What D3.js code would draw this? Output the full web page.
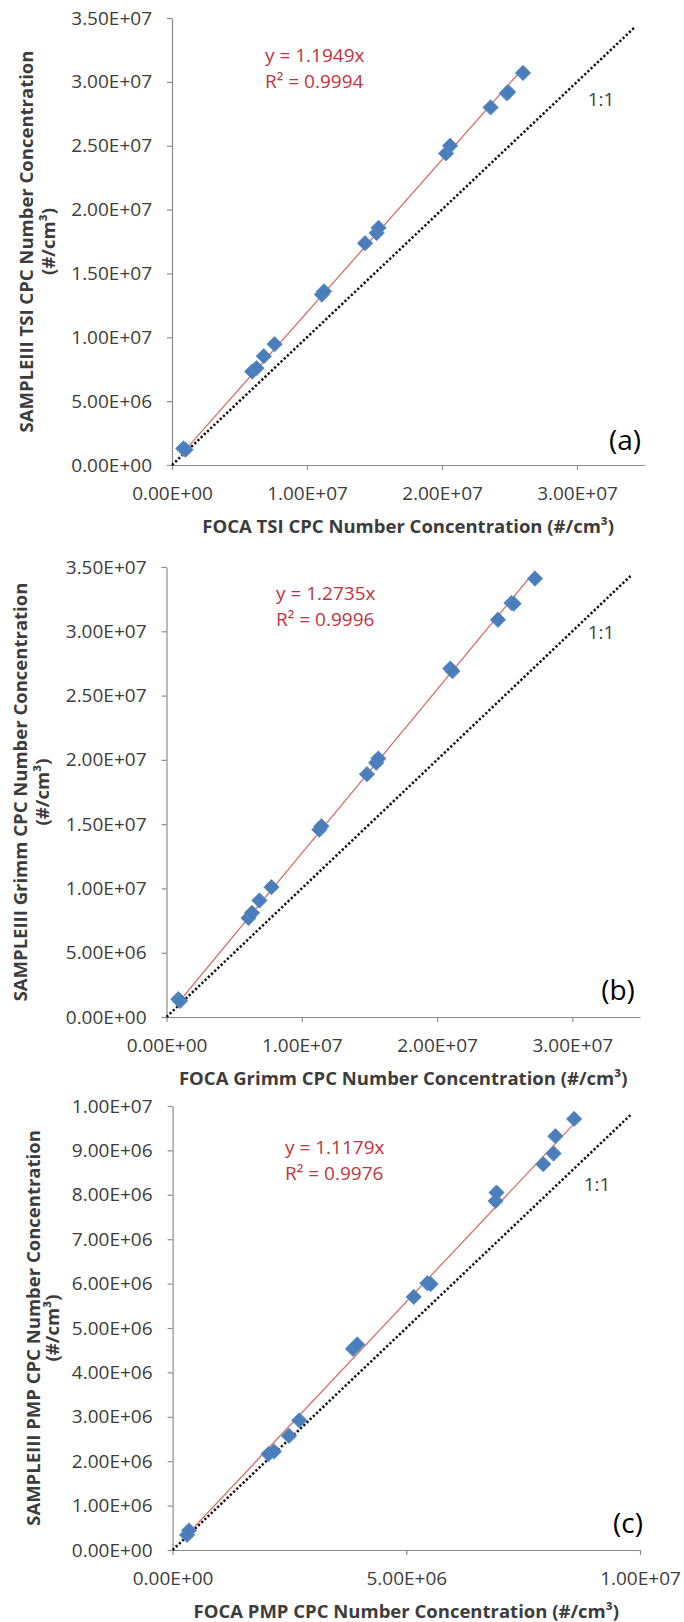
<!DOCTYPE html>
<html><head><meta charset="utf-8">
<script src="https://cdn.jsdelivr.net/npm/d3@7"></script>
<style>
body{margin:0;background:#fff}
text{font-family:'Open Sans',sans-serif}
</style>
</head><body>
<svg id="chart" width="684" height="1622"></svg>
<script>
// ---------------- DATA ----------------
// Panel (a): FOCA TSI vs SAMPLEIII TSI
const focaTsi   = [0.84e6, 1.0e6, 5.94e6, 6.26e6, 6.8e6, 7.6e6, 11.1e6, 11.26e6, 14.3e6, 15.16e6, 15.3e6, 20.3e6, 20.6e6, 23.6e6, 24.8e6, 24.9e6, 26.0e6];
const sampleTsi = [1.29e6, 1.2e6, 7.32e6, 7.58e6, 8.52e6, 9.46e6, 13.35e6, 13.6e6, 17.37e6, 18.17e6, 18.57e6, 24.4e6, 25.0e6, 28.0e6, 29.1e6, 29.2e6, 30.7e6];
// Panel (b): FOCA Grimm vs SAMPLEIII Grimm
const focaGrimm   = [0.87e6, 1.0e6, 6.06e6, 6.32e6, 6.87e6, 7.76e6, 11.3e6, 11.45e6, 14.82e6, 15.5e6, 15.66e6, 20.98e6, 21.14e6, 24.5e6, 25.5e6, 25.66e6, 27.24e6];
const sampleGrimm = [1.39e6, 1.25e6, 7.7e6, 8.1e6, 9.06e6, 10.1e6, 14.57e6, 14.84e6, 18.89e6, 19.77e6, 20.1e6, 27.1e6, 26.9e6, 30.9e6, 32.2e6, 32.15e6, 34.1e6];
// Panel (c): FOCA PMP vs SAMPLEIII PMP
const focaPmp   = [0.31e6, 0.35e6, 2.05e6, 2.17e6, 2.49e6, 2.71e6, 3.86e6, 3.95e6, 5.16e6, 5.45e6, 5.52e6, 6.91e6, 6.93e6, 7.93e6, 8.15e6, 8.19e6, 8.59e6];
const samplePmp = [0.34e6, 0.44e6, 2.16e6, 2.22e6, 2.57e6, 2.92e6, 4.53e6, 4.63e6, 5.70e6, 6.01e6, 5.99e6, 7.86e6, 8.05e6, 8.69e6, 8.93e6, 9.32e6, 9.71e6];

const slopes   = [1.1949, 1.2735, 1.1179];
const r2Labels = ["0.9994", "0.9996", "0.9976"];
const oneToOneEnd = [3.43e7, 3.43e7, 9.8e6];
const panelLetters = ["(a)", "(b)", "(c)"];
const xTitles = ["FOCA TSI CPC Number Concentration (#/cm³)",
                 "FOCA Grimm CPC Number Concentration (#/cm³)",
                 "FOCA PMP CPC Number Concentration (#/cm³)"];
const yTitles = ["SAMPLEIII TSI CPC Number Concentration",
                 "SAMPLEIII Grimm CPC Number Concentration",
                 "SAMPLEIII PMP CPC Number Concentration"];
const yTitleUnit = "(#/cm³)";
const xTicksAB = [0, 1e7, 2e7, 3e7];
const yTicksAB = [0, 5e6, 1e7, 1.5e7, 2e7, 2.5e7, 3e7, 3.5e7];
const xTicksC  = [0, 5e6, 1e7];
const yTicksC  = [0, 1e6, 2e6, 3e6, 4e6, 5e6, 6e6, 7e6, 8e6, 9e6, 1e7];
const xMaxes = [3.5e7, 3.5e7, 1e7];
const yMaxes = [3.5e7, 3.5e7, 1e7];

// ---------------- LAYOUT ----------------
const layout = [
  {x0:172,   x1:644.5, y0:465,  y1:18,   eqX:265, eqY:62,   oneX:601, oneY:106,  letX:625, letY:450,
   yt1:32.5, yt2:55,  },
  {x0:166.5, x1:640,   y0:1017, y1:567,  eqX:276, eqY:600,  oneX:601, oneY:639,  letX:618, letY:1000,
   yt1:27,   yt2:49,  },
  {x0:172.6, x1:640,   y0:1550, y1:1106, eqX:285, eqY:1154, oneX:597, oneY:1191, letX:628, letY:1533,
   yt1:40,   yt2:59,  }
];

const xs = [focaTsi, focaGrimm, focaPmp];
const ys = [sampleTsi, sampleGrimm, samplePmp];
const xTickSets = [xTicksAB, xTicksAB, xTicksC];
const yTickSets = [yTicksAB, yTicksAB, yTicksC];

function excelSci(v){
  if (v === 0) return "0.00E+00";
  const e = Math.floor(Math.log10(Math.abs(v)) + 1e-9);
  const m = v / Math.pow(10, e);
  return m.toFixed(2) + "E" + (e < 0 ? "-" : "+") + String(Math.abs(e)).padStart(2, "0");
}

const svg = d3.select("#chart");
svg.append("rect").attr("width", 684).attr("height", 1622).attr("fill", "#fff");

const axisColor = "#8c8c8c";
const labelColor = "#3c3c3c";
const trendColor = "#d9706a";
const eqColor = "#bf3440";
const markerColor = "#4a7ebb";

layout.forEach((L, i) => {
  const x = d3.scaleLinear().domain([0, xMaxes[i]]).range([L.x0, L.x1]);
  const y = d3.scaleLinear().domain([0, yMaxes[i]]).range([L.y0, L.y1]);
  const g = svg.append("g");

  const yAxis = d3.axisLeft(y).tickValues(yTickSets[i]).tickFormat(excelSci)
    .tickSize(5).tickSizeOuter(0).tickPadding(15);
  const xAxis = d3.axisBottom(x).tickValues(xTickSets[i]).tickFormat(excelSci)
    .tickSize(5).tickSizeOuter(0).tickPadding(17);

  const gy = g.append("g").attr("transform", `translate(${L.x0},0)`).call(yAxis);
  const gx = g.append("g").attr("transform", `translate(0,${L.y0})`).call(xAxis);
  [gx, gy].forEach(a => {
    a.select(".domain").attr("stroke", axisColor).attr("stroke-width", 1.2);
    a.selectAll(".tick line").attr("stroke", axisColor).attr("stroke-width", 1.2);
    a.selectAll(".tick text").attr("fill", labelColor).attr("font-size", 19)
      .attr("font-family", "'Open Sans',sans-serif");
  });

  // 1:1 dotted line
  const oneData = [[0, 0], [oneToOneEnd[i], oneToOneEnd[i]]];
  g.append("path")
    .attr("d", d3.line().x(d => x(d[0])).y(d => y(d[1]))(oneData))
    .attr("stroke", "#111").attr("stroke-width", 2.5)
    .attr("stroke-dasharray", "2.3 2.1").attr("fill", "none");

  // trendline through origin over data x-range
  const xe = d3.extent(xs[i]);
  const tr = xe.map(v => [v, v * slopes[i]]);
  g.append("path")
    .attr("d", d3.line().x(d => x(d[0])).y(d => y(d[1]))(tr))
    .attr("stroke", trendColor).attr("stroke-width", 1.3).attr("fill", "none");

  // markers
  const pts = xs[i].map((v, k) => [v, ys[i][k]]);
  const sym = d3.symbol().type(d3.symbolSquare).size(118);
  g.selectAll("path.pt").data(pts).enter().append("path")
    .attr("class", "pt")
    .attr("d", sym)
    .attr("transform", d => `translate(${x(d[0])},${y(d[1])}) rotate(45)`)
    .attr("fill", markerColor).attr("stroke", "#5b8cc8").attr("stroke-width", 0.8);

  // equation labels
  g.append("text").attr("x", L.eqX).attr("y", L.eqY).attr("fill", eqColor)
    .attr("font-size", 19).text(`y = ${slopes[i].toFixed(4)}x`);
  g.append("text").attr("x", L.eqX).attr("y", L.eqY + 26).attr("fill", eqColor)
    .attr("font-size", 19).text(`R² = ${r2Labels[i]}`);

  // 1:1 label
  g.append("text").attr("x", L.oneX).attr("y", L.oneY).attr("text-anchor", "middle")
    .attr("fill", "#404040").attr("font-size", 19).text("1:1");

  // panel letter
  g.append("text").attr("x", L.letX).attr("y", L.letY).attr("text-anchor", "middle")
    .attr("fill", "#000").attr("font-size", 28).text(panelLetters[i]);

  // x title
  g.append("text").attr("x", (L.x0 + L.x1) / 2).attr("y", L.y0 + 68)
    .attr("text-anchor", "middle").attr("font-weight", "bold").attr("font-size", 18.5)
    .attr("fill", labelColor).text(xTitles[i]);

  // y title (two lines)
  const cy = (L.y0 + L.y1) / 2;
  g.append("text").attr("transform", `translate(${L.yt1},${cy}) rotate(-90)`)
    .attr("text-anchor", "middle").attr("font-weight", "bold").attr("font-size", 18.5)
    .attr("fill", labelColor).text(yTitles[i]);
  g.append("text").attr("transform", `translate(${L.yt2},${cy}) rotate(-90)`)
    .attr("text-anchor", "middle").attr("font-weight", "bold").attr("font-size", 18.5)
    .attr("fill", labelColor).text(yTitleUnit);
});
</script>
</body></html>
